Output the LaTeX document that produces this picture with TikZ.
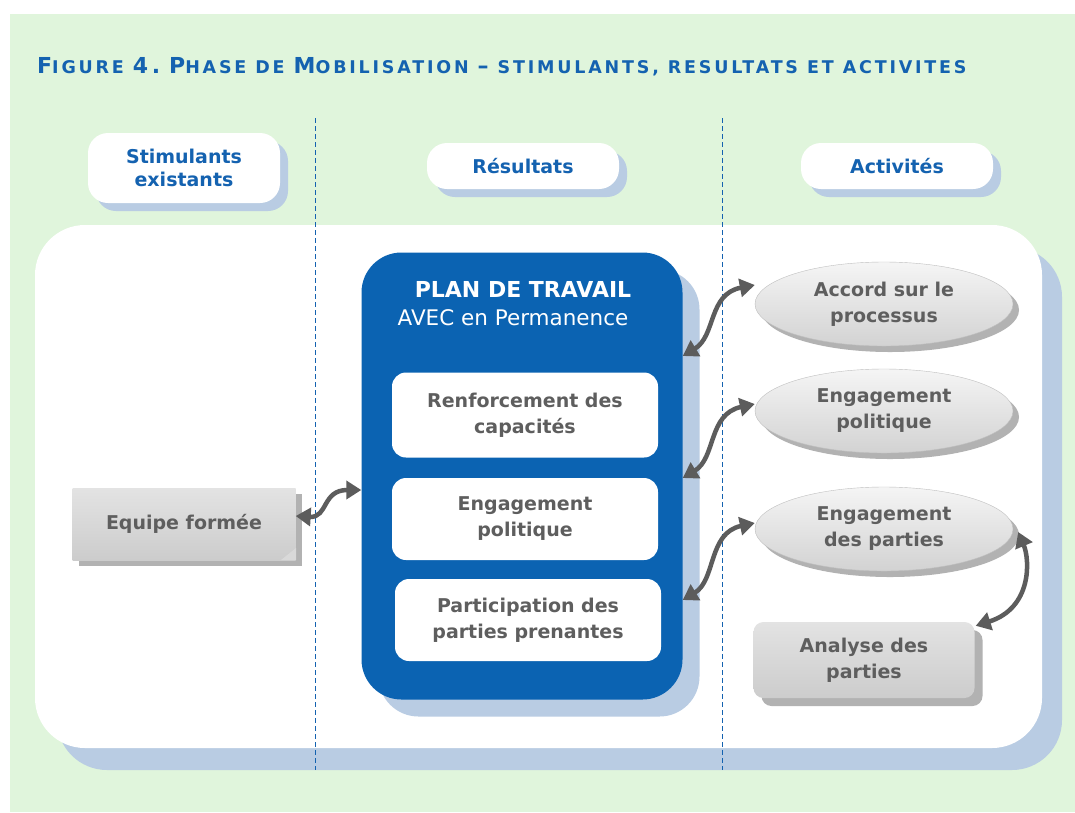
\documentclass[tikz,border=0pt]{standalone}
\usepackage{fontspec}
\setmainfont{DejaVu Sans}
\newfontfamily\titlefont[LetterSpace=16]{DejaVu Sans}
\usetikzlibrary{shapes.geometric,shadows,arrows.meta}

\definecolor{bggreen}{HTML}{E0F5DC}
\definecolor{titleblue}{HTML}{1462B0}
\definecolor{planblue}{HTML}{0B63B2}
\definecolor{shadowblue}{HTML}{B9CCE3}
\definecolor{textgray}{HTML}{5E5E5E}
\definecolor{arrowgray}{HTML}{5C5C5C}
\definecolor{shadowgray}{HTML}{B2B2B2}

\newcommand\tbig{\fontsize{22}{26}\selectfont}
\newcommand\tsmall{\fontsize{17.5}{21}\selectfont}
\newcommand\tsp{\hspace{9pt}}

\tikzset{
    header/.style={fill=white,rounded corners=20,text=titleblue,align=center,
        font=\bfseries\fontsize{19}{23}\selectfont,minimum width=192,minimum height=46,
        general shadow={shadow xshift=8pt,shadow yshift=-8pt,fill=shadowblue}},
    inbox/.style={fill=white,rounded corners=14,text=textgray,align=center,
        font=\bfseries\fontsize{19}{26}\selectfont,minimum width=266,minimum height=82},
    grayfill/.style={top color=gray!22,middle color=white,bottom color=gray!40},
    ellfill/.style={top color=gray!8,middle color=white,bottom color=gray!35},
    actell/.style={ellipse,ellfill,draw=gray!50,thin,minimum width=258,minimum height=84,
        text=textgray,align=center,font=\bfseries\fontsize{19}{26}\selectfont,
        general shadow={shadow xshift=6pt,shadow yshift=-6pt,fill=shadowgray}},
    actbox/.style={grayfill,rounded corners=10,text=textgray,align=center,
        font=\bfseries\fontsize{19}{26}\selectfont,
        general shadow={shadow xshift=8pt,shadow yshift=-8pt,fill=shadowgray}},
    link/.style={draw=arrowgray,line width=4.5pt,
        arrows={Triangle[length=15pt,width=18pt]-Triangle[length=15pt,width=18pt]}},
    colsep/.style={titleblue,line width=1pt,dash pattern=on 5pt off 3pt}
}

\begin{document}
\begin{tikzpicture}[x=1pt,y=-1pt]
    \useasboundingbox (0,0) rectangle (1075,812);
    \fill[white] (0,0) rectangle (1075,812);
    \fill[bggreen] (10,14) rectangle (1075,812);

    % title
    \node[anchor=base west,text=titleblue,font=\titlefont\bfseries,inner sep=0] (title) at (37,73)
        {{\tbig F}{\tsmall IGURE}\tsp{\tbig 4.}\tsp{\tbig P}{\tsmall HASE}\tsp{\tsmall DE}\tsp{\tbig M}{\tsmall OBILISATION}\tsp{\tbig –}\tsp{\tsmall STIMULANTS,}\tsp{\tsmall RESULTATS}\tsp{\tsmall ET}\tsp{\tsmall ACTIVITES}};

    % panel
    \fill[shadowblue,rounded corners=50] (57,247) rectangle (1062,770);
    \fill[white,rounded corners=50] (35,225) rectangle (1042,748);

    \draw[colsep] (315.5,118) -- (315.5,770);
    \draw[colsep] (722.5,118) -- (722.5,770);

    % column headers
    \node[header,minimum height=70] (stim) at (184,168) {Stimulants\\existants};
    \node[header] (res) at (523,166) {Résultats};
    \node[header] (act) at (897,166) {Activités};

    % plan de travail
    \node[fill=planblue,rounded corners=40,minimum width=321,minimum height=447,
        general shadow={shadow xshift=17pt,shadow yshift=-17pt,fill=shadowblue}] (plan) at (522,476) {};
    \node[text=white,font=\bfseries\fontsize{22}{26}\selectfont] (plantitle) at (523,289) {PLAN DE TRAVAIL};
    \node[text=white,font=\fontsize{21.5}{26}\selectfont] (plansub) at (513,318) {AVEC en Permanence};

    \node[inbox,minimum height=85] (renf) at (525,415) {Renforcement des\\capacités};
    \node[inbox] (engpol) at (525,519) {Engagement\\politique};
    \node[inbox] (partic) at (528,620) {Participation des\\parties prenantes};

    % stimulant
    \node[grayfill,minimum width=223,minimum height=72,text=textgray,
        font=\bfseries\fontsize{19}{23}\selectfont,
        general shadow={shadow xshift=6pt,shadow yshift=-6pt,fill=shadowgray}] (equipe) at (184,524) {Equipe formée};
    \fill[gray!30] (296,548) -- (281,560) -- (296,560) -- cycle;

    % activites
    \node[actell] (accord) at (884,304) {Accord sur le\\processus};
    \node[actell] (engact) at (884,411) {Engagement\\politique};
    \node[actell] (engpart) at (884,529) {Engagement\\des parties};
    \node[actbox,minimum width=221,minimum height=76] (analyse) at (864,660) {Analyse des\\parties};

    % links
    \draw[link] ([yshift=8pt]equipe.east) .. controls (328,518) and (322,490) .. ([yshift=-14pt]plan.west);
    \draw[link] ([yshift=120pt]plan.east) .. controls (716,336) and (708,294) .. ([yshift=19pt]accord.west);
    \draw[link] ([yshift=-2pt]plan.east) .. controls (716,458) and (708,414) .. ([yshift=7pt]engact.west);
    \draw[link] ([yshift=-124pt]plan.east) .. controls (716,580) and (708,533) .. ([yshift=6pt]engpart.west);
    \draw[link] ([xshift=5pt,yshift=-3pt]engpart.east) .. controls (1030,560) and (1032,608) .. ([xshift=1pt,yshift=-4pt]analyse.north east);
\end{tikzpicture}
\end{document}
